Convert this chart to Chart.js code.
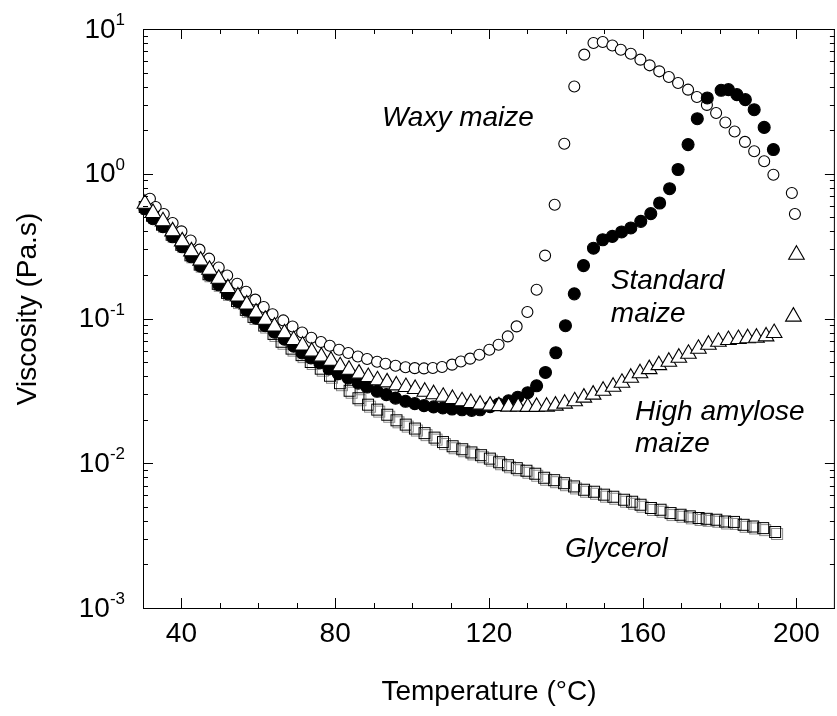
<!DOCTYPE html>
<html><head><meta charset="utf-8">
<script src="https://cdn.jsdelivr.net/npm/chart.js@4.4.1/dist/chart.umd.min.js"></script>
<style>
html,body{margin:0;padding:0;background:#fff;overflow:hidden;}
#wrap{position:absolute;left:0;top:0;width:845px;height:716px;}
</style></head><body>
<div id="wrap"><canvas id="c" width="845" height="716"></canvas></div>
<script>
// ---- tick labels ----
const xTickValues = [40, 80, 120, 160, 200];
const yTickExponents = [-3, -2, -1, 0, 1];

// ---- Waxy maize (open circles) ----
const waxyT = [31.8, 33.3, 35.4, 37.7, 40.0, 42.4, 44.7, 47.2, 49.7, 51.9, 54.5, 56.8, 59.2, 61.4, 63.7, 66.5, 68.9, 71.4, 73.8, 76.3, 78.6, 81.0, 83.4, 85.9, 88.3, 90.9, 93.1, 95.7, 98.3, 100.7, 103.1, 105.4, 107.8, 110.4, 112.7, 115.1, 117.5, 120.1, 122.5, 124.9, 127.2, 130.0, 132.4, 134.6, 137.1, 139.6, 142.2, 144.8, 147.2, 149.6, 152.1, 154.3, 156.9, 159.4, 161.8, 164.3, 166.8, 169.2, 171.8, 174.1, 176.7, 179.1, 181.5, 183.9, 186.6, 189.0, 191.6, 194.0, 198.8, 199.6];
const waxyV = [0.672, 0.589, 0.527, 0.457, 0.400, 0.346, 0.299, 0.259, 0.225, 0.198, 0.174, 0.153, 0.135, 0.120, 0.107, 0.097, 0.088, 0.080, 0.0737, 0.0688, 0.0649, 0.0609, 0.0578, 0.0547, 0.0525, 0.0503, 0.0487, 0.0472, 0.0460, 0.0454, 0.0452, 0.0455, 0.0462, 0.0480, 0.0505, 0.0528, 0.0562, 0.0609, 0.0659, 0.0752, 0.0882, 0.111, 0.158, 0.272, 0.611, 1.61, 4.01, 6.65, 8.00, 8.13, 7.70, 7.19, 6.75, 6.14, 5.61, 5.10, 4.66, 4.24, 3.81, 3.39, 2.99, 2.63, 2.26, 1.96, 1.66, 1.43, 1.22, 0.985, 0.736, 0.527];

// ---- Standard maize (filled circles) ----
const standardT = [30.5, 32.6, 35.2, 37.7, 40.2, 42.6, 45.0, 47.3, 49.7, 52.1, 54.7, 57.0, 59.4, 61.8, 64.2, 66.8, 69.2, 71.4, 73.7, 76.0, 78.4, 80.8, 83.4, 86.0, 88.3, 90.9, 93.3, 95.7, 98.3, 100.7, 103.1, 105.6, 108.0, 110.4, 113.0, 115.5, 117.7, 120.3, 122.5, 125.1, 127.5, 130.1, 132.4, 134.7, 137.4, 139.9, 142.2, 144.6, 147.2, 149.6, 152.1, 154.5, 156.9, 159.5, 162.1, 164.4, 167.0, 169.2, 171.8, 174.2, 176.8, 180.4, 182.3, 184.5, 186.7, 189.0, 191.6, 194.0];
const standardV = [0.573, 0.489, 0.431, 0.367, 0.313, 0.267, 0.230, 0.199, 0.171, 0.148, 0.131, 0.114, 0.1005, 0.0892, 0.0804, 0.0719, 0.0644, 0.0578, 0.0534, 0.0493, 0.0448, 0.0416, 0.0388, 0.0358, 0.0336, 0.0314, 0.0298, 0.0282, 0.0268, 0.0258, 0.0250, 0.0245, 0.0241, 0.0237, 0.0234, 0.0232, 0.0234, 0.0246, 0.0256, 0.0270, 0.0286, 0.0307, 0.0343, 0.0424, 0.0580, 0.0892, 0.148, 0.232, 0.306, 0.350, 0.369, 0.396, 0.422, 0.469, 0.530, 0.628, 0.788, 1.07, 1.59, 2.40, 3.34, 3.77, 3.81, 3.52, 3.25, 2.77, 2.09, 1.47];

// ---- High amylose maize (open triangles) ----
const amyloseT = [30.5, 32.6, 35.2, 37.7, 40.2, 42.6, 45.0, 47.3, 49.7, 52.1, 54.7, 57.0, 59.4, 61.8, 64.2, 66.8, 69.2, 71.5, 73.9, 76.4, 78.9, 81.3, 83.6, 86.2, 88.6, 91.0, 93.5, 95.9, 98.4, 100.8, 103.3, 105.6, 108.1, 110.5, 113.0, 115.3, 117.7, 120.3, 122.6, 125.1, 127.6, 130.1, 132.4, 135.0, 137.3, 139.7, 142.3, 144.7, 147.1, 149.7, 152.3, 154.6, 156.9, 159.3, 161.7, 164.2, 166.8, 169.4, 171.9, 174.5, 177.1, 179.7, 182.3, 184.9, 187.3, 189.6, 192.1, 194.2, 199.2, 200.0];
const amyloseV = [0.621, 0.536, 0.469, 0.400, 0.341, 0.291, 0.251, 0.217, 0.188, 0.162, 0.142, 0.125, 0.110, 0.098, 0.088, 0.079, 0.071, 0.065, 0.059, 0.0545, 0.0511, 0.0468, 0.0443, 0.0416, 0.0394, 0.0374, 0.0362, 0.0345, 0.0336, 0.0326, 0.0312, 0.0300, 0.0288, 0.0278, 0.0268, 0.0261, 0.0254, 0.0250, 0.0248, 0.0246, 0.0246, 0.0245, 0.0245, 0.0246, 0.0250, 0.0258, 0.0268, 0.0284, 0.0298, 0.0317, 0.0338, 0.0360, 0.0390, 0.0419, 0.0447, 0.0476, 0.0503, 0.0536, 0.0571, 0.0618, 0.0659, 0.0691, 0.0710, 0.0722, 0.0731, 0.0737, 0.0752, 0.0794, 0.103, 0.276];

// ---- Glycerol (open squares) ----
const glycerolT = [30.7, 32.6, 35.2, 37.7, 40.2, 42.6, 45.0, 47.3, 49.7, 52.1, 54.7, 57.0, 59.0, 61.8, 64.2, 66.3, 68.9, 71.5, 73.9, 76.5, 78.9, 81.5, 84.0, 86.3, 88.8, 91.2, 93.8, 96.2, 98.6, 101.0, 103.5, 106.1, 108.3, 110.8, 113.3, 115.7, 118.2, 120.5, 122.9, 125.2, 127.5, 130.0, 132.3, 134.6, 137.2, 139.8, 142.4, 145.0, 147.6, 150.2, 152.6, 155.4, 157.5, 159.7, 162.4, 164.9, 167.5, 170.1, 172.5, 174.8, 176.9, 179.4, 181.7, 184.0, 186.5, 189.0, 191.6, 194.7];
const glycerolV = [0.580, 0.505, 0.438, 0.373, 0.318, 0.269, 0.232, 0.199, 0.171, 0.148, 0.130, 0.113, 0.101, 0.088, 0.077, 0.068, 0.061, 0.055, 0.0493, 0.0443, 0.0396, 0.0352, 0.0312, 0.0277, 0.0250, 0.0231, 0.0213, 0.0195, 0.0182, 0.0171, 0.0159, 0.0148, 0.0138, 0.0129, 0.0123, 0.0117, 0.0112, 0.0106, 0.0100, 0.00954, 0.00910, 0.00874, 0.00833, 0.00782, 0.00752, 0.00717, 0.00681, 0.00646, 0.00626, 0.00597, 0.00578, 0.00551, 0.00534, 0.00509, 0.00483, 0.00470, 0.00446, 0.00434, 0.00423, 0.00412, 0.00407, 0.00401, 0.00390, 0.00387, 0.00370, 0.00360, 0.00351, 0.00330];

// ---- in-plot series labels (text, temperature, viscosity of baseline-left) ----
const seriesLabels = [
  {text: 'Waxy maize', t: 92.15, v: 2.15},
  {text: 'Standard', t: 151.7, v: 0.159},
  {text: 'maize', t: 151.7, v: 0.0943},
  {text: 'High amylose', t: 158.0, v: 0.0199},
  {text: 'maize', t: 158.0, v: 0.0119},
  {text: 'Glycerol', t: 139.8, v: 0.00224}
];
const xTitle = 'Temperature (°C)';
const yTitle = 'Viscosity (Pa.s)';

const FONT = 'Arial, "Liberation Sans", Helvetica, sans-serif';
const pts = (T, V) => T.map((t, i) => ({x: t, y: V[i]}));

// square marker with a faint grey offset outline, as in the original print
function squareMarker() {
  const s = 18, c = document.createElement('canvas');
  c.width = s; c.height = s;
  const g = c.getContext('2d');
  g.lineWidth = 1;
  g.strokeStyle = '#8a8a8a';
  g.strokeRect(4.5, 4.5, 11, 11);
  g.strokeStyle = '#000';
  g.strokeRect(2.5, 2.5, 11, 11);
  return c;
}

const decorPlugin = {
  id: 'decor',
  afterDraw(chart) {
    const {ctx, chartArea: a, scales: {x, y}} = chart;
    ctx.save();
    ctx.strokeStyle = '#000';
    ctx.lineWidth = 1;
    ctx.beginPath();
    // top & right frame
    ctx.moveTo(a.left, a.top + 0.5); ctx.lineTo(a.right, a.top + 0.5);
    ctx.moveTo(a.right - 0.5, a.top); ctx.lineTo(a.right - 0.5, a.bottom);
    // x ticks (inside, top & bottom)
    for (let t = 40; t <= 200; t += 10) {
      const px = Math.round(x.getPixelForValue(t)) + 0.5;
      const len = (t % 40 === 0) ? 10 : 5;
      ctx.moveTo(px, a.bottom); ctx.lineTo(px, a.bottom - len);
      ctx.moveTo(px, a.top); ctx.lineTo(px, a.top + len);
    }
    // y ticks (inside, left & right)
    for (let e = -3; e <= 1; e++) {
      for (let m = 1; m <= 9; m++) {
        if (e === 1 && m > 1) break;
        const py = Math.round(y.getPixelForValue(m * Math.pow(10, e))) + 0.5;
        const len = (m === 1) ? 10 : 5;
        ctx.moveTo(a.left, py); ctx.lineTo(a.left + len, py);
        ctx.moveTo(a.right, py); ctx.lineTo(a.right - len, py);
      }
    }
    ctx.stroke();

    // y tick labels 10^n
    ctx.fillStyle = '#000';
    const xr = 125;
    yTickExponents.forEach(e => {
      const py = y.getPixelForValue(Math.pow(10, e));
      ctx.font = '17px ' + FONT;
      ctx.textAlign = 'right';
      ctx.textBaseline = 'alphabetic';
      const es = String(e);
      const ew = ctx.measureText(es).width;
      ctx.fillText(es, xr, py - 4);
      ctx.font = '28px ' + FONT;
      ctx.fillText('10', xr - ew, py + 8.5);
    });

    // y axis title
    ctx.save();
    ctx.translate(35.5, 309);
    ctx.rotate(-Math.PI / 2);
    ctx.font = '28px ' + FONT;
    ctx.textAlign = 'center';
    ctx.textBaseline = 'alphabetic';
    ctx.fillText(yTitle, 0, 0);
    ctx.restore();

    // series labels
    ctx.font = 'italic 28px ' + FONT;
    ctx.textAlign = 'left';
    ctx.textBaseline = 'alphabetic';
    seriesLabels.forEach(l => {
      ctx.fillText(l.text, x.getPixelForValue(l.t), y.getPixelForValue(l.v));
    });
    ctx.restore();
  }
};

const common = {showLine: false, clip: false, borderWidth: 1.1, borderColor: '#000'};

new Chart(document.getElementById('c'), {
  type: 'scatter',
  data: {
    datasets: [
      Object.assign({label: 'High amylose maize', data: pts(amyloseT, amyloseV),
        pointStyle: 'triangle', pointRadius: 9, backgroundColor: '#fff'}, common),
      Object.assign({label: 'Standard maize', data: pts(standardT, standardV),
        pointStyle: 'circle', pointRadius: 6, backgroundColor: '#000'}, common),
      Object.assign({label: 'Waxy maize', data: pts(waxyT, waxyV),
        pointStyle: 'circle', pointRadius: 5.5, backgroundColor: '#fff'}, common),
      Object.assign({label: 'Glycerol', data: pts(glycerolT, glycerolV),
        pointStyle: squareMarker(), pointRadius: 8, backgroundColor: 'rgba(0,0,0,0)'}, common)
    ]
  },
  options: {
    responsive: false,
    animation: false,
    devicePixelRatio: 1,
    layout: {padding: {left: 0, top: 29, right: 7, bottom: 0}},
    plugins: {legend: {display: false}, tooltip: {enabled: false}},
    scales: {
      x: {
        type: 'linear', min: 30, max: 210,
        grid: {display: false, drawTicks: false},
        border: {display: true, color: '#000', width: 1},
        ticks: {color: '#000', font: {family: FONT, size: 28}, padding: 9, maxRotation: 0, autoSkip: false},
        title: {display: true, text: xTitle, color: '#000', font: {family: FONT, size: 28}, padding: {top: 0, bottom: 7}},
        afterBuildTicks(s) { s.ticks = xTickValues.map(v => ({value: v})); },
        afterFit(s) { s.height = 108; }
      },
      y: {
        type: 'logarithmic', min: 0.001, max: 10,
        grid: {display: false, drawTicks: false},
        border: {display: true, color: '#000', width: 1},
        ticks: {display: false},
        afterBuildTicks(s) { s.ticks = yTickExponents.map(e => ({value: Math.pow(10, e)})); },
        afterFit(s) { s.width = 143; }
      }
    }
  },
  plugins: [decorPlugin]
});
</script>
</body></html>
